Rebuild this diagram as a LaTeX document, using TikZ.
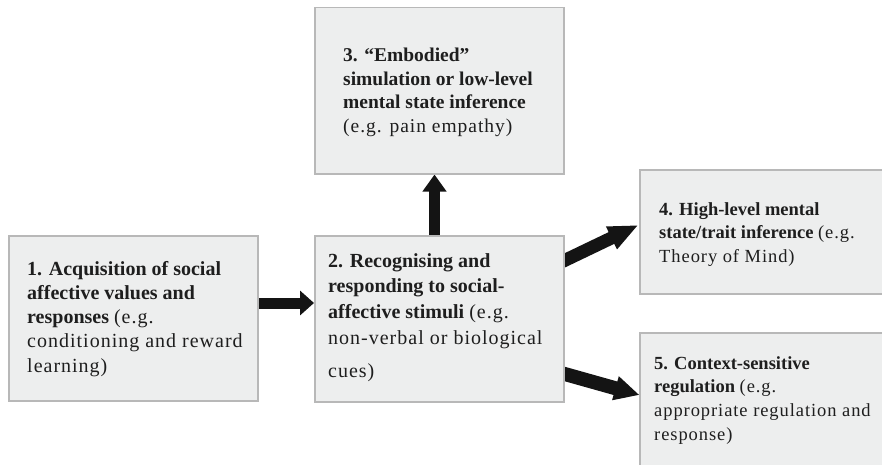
\documentclass[tikz,border=0pt]{standalone}
\usepackage{fontspec}
\setmainfont{Liberation Serif}
\newfontfamily\rgfont[LetterSpace=5]{Liberation Serif}
\usetikzlibrary{arrows.meta,calc}
\definecolor{boxfill}{HTML}{EDEEEE}
\definecolor{boxline}{HTML}{B8B8B8}
\definecolor{ink}{HTML}{1E1E1E}
\definecolor{arrowc}{HTML}{141414}
\newcommand\rg[1]{{\rgfont #1}}
\pgfdeclarelayer{bg}
\pgfsetlayers{bg,main}
\begin{document}
\begin{tikzpicture}[x=1pt,y=-1pt,
  box/.style={draw=boxline, fill=boxfill, line width=1.5pt, inner sep=0pt, anchor=north west},
  txt/.style={anchor=base west, inner sep=0pt, text=ink},
  fat/.style={draw=arrowc, line cap=butt}]
\clip (0,0) rectangle (882,465);
\node[box, minimum width=249pt, minimum height=165pt] (b1) at (8,235) {};
\node[box, minimum width=249pt, minimum height=166pt] (b2) at (314,235) {};
\node[box, minimum width=249pt, minimum height=166pt] (b3) at (314,7) {};
\node[box, minimum width=262pt, minimum height=124pt] (b4) at (639,169) {};
\node[box, minimum width=262pt, minimum height=150pt] (b5) at (639,332) {};

\node[txt, font=\fontsize{20}{24.3}\selectfont] (t1) at (27,275)
  {\begin{tabular}[t]{@{}l@{}}\textbf{1. Acquisition of social}\\ \textbf{affective values and}\\ \textbf{responses} \rg{(e.g.}\\ \rg{conditioning and reward}\\ \rg{learning)}\end{tabular}};
\node[txt, font=\fontsize{20}{25.7}\selectfont] (t2) at (328,267)
  {\begin{tabular}[t]{@{}l@{}}\textbf{2. Recognising and}\\ \textbf{responding to social-}\\ \textbf{affective stimuli} \rg{(e.g.}\\ \rg{non-verbal or biological}\\[8pt] \rg{cues)}\end{tabular}};
\node[txt, font=\fontsize{19.5}{23.5}\selectfont] (t3) at (343,62)
  {\begin{tabular}[t]{@{}l@{}}\textbf{3. “Embodied”}\\ \textbf{simulation or low-level}\\ \textbf{mental state inference}\\ \rg{(e.g. pain empathy)}\end{tabular}};
\node[txt, font=\fontsize{18.5}{23.5}\selectfont] (t4) at (659,215)
  {\begin{tabular}[t]{@{}l@{}}\textbf{4. High-level mental}\\ \textbf{state/trait inference} \rg{(e.g.}\\ \rg{Theory of Mind)}\end{tabular}};
\node[txt, font=\fontsize{18.5}{23.7}\selectfont] (t5) at (654,369)
  {\begin{tabular}[t]{@{}l@{}}\textbf{5. Context-sensitive}\\ \textbf{regulation} \rg{(e.g.}\\ \rg{appropriate regulation and}\\ \rg{response)}\end{tabular}};

\begin{pgfonlayer}{bg}
\draw[fat, line width=11pt, -{Triangle[length=14pt,width=24pt]}]
  ($(b1.north east)+(-4,68)$) -- ($(b2.north west)+(0,68)$);
\draw[fat, line width=11pt, -{Triangle[length=17pt,width=23pt]}]
  ($(b2.north west)+(120.5,4)$) -- ($(b3.south west)+(120.5,0)$);
\draw[fat, line width=13pt, -{Triangle[length=30pt,width=23pt]}]
  ($(b2.north east)+(-5.4,28.1)$) -- ($(b4.north west)+(-0.5,56)$);
\draw[fat, line width=14pt, -{Triangle[length=25pt,width=23pt]}]
  ($(b2.south east)+(-5.8,-30.2)$) -- ($(b5.north west)+(0.5,63)$);
\end{pgfonlayer}
\end{tikzpicture}
\end{document}
